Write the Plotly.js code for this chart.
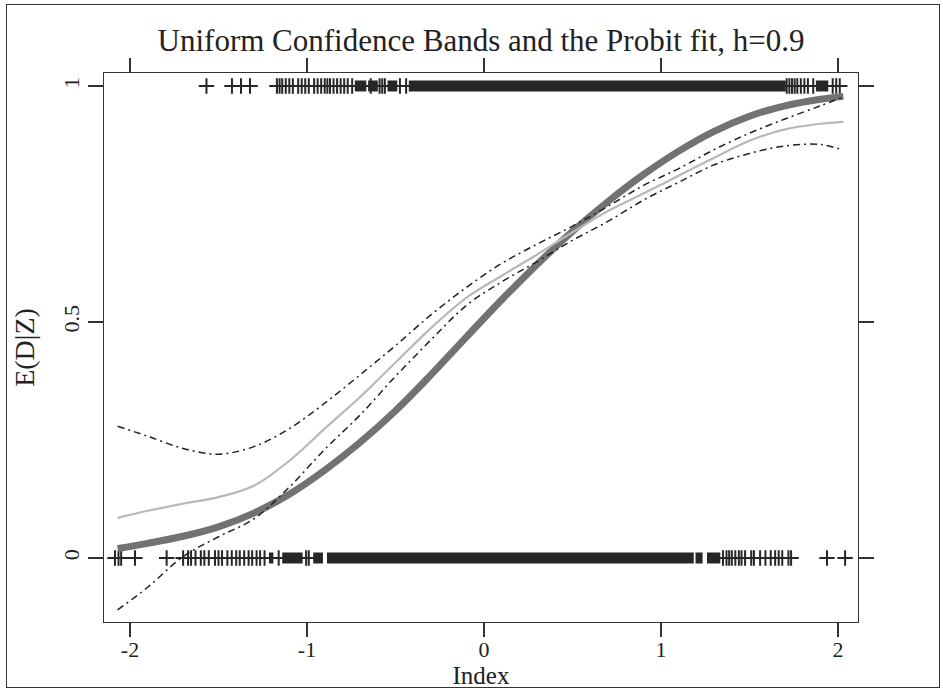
<!DOCTYPE html>
<html>
<head>
<meta charset="utf-8">
<script src="https://cdn.plot.ly/plotly-3.0.1.min.js"></script>
<style>
  html, body { margin: 0; padding: 0; background: #fff; }
  #wrap { position: relative; width: 943px; height: 690px; }
  #chart { width: 943px; height: 690px; }
  #frame { position: absolute; left: 6px; top: 4px; width: 932px; height: 682px;
           border: 1.5px solid #333; pointer-events: none; }
</style>
</head>
<body>
<div id="wrap">
  <div id="chart"></div>
  <div id="frame"></div>
</div>
<script>
// ---- data ----
const gridX = [-2.07, -1.9, -1.7, -1.5, -1.3, -1.1, -0.9, -0.7, -0.5, -0.3, -0.1,
               0.1, 0.3, 0.5, 0.7, 0.9, 1.1, 1.3, 1.5, 1.7, 1.9, 2.03];
const probitFit = [0.020, 0.031, 0.046, 0.066, 0.095, 0.135, 0.186, 0.245, 0.312, 0.388, 0.468,
                   0.547, 0.622, 0.692, 0.755, 0.812, 0.862, 0.904, 0.936, 0.958, 0.972, 0.978];
const kernelFit = [0.085, 0.100, 0.115, 0.129, 0.153, 0.206, 0.274, 0.341, 0.414, 0.487, 0.551,
                   0.598, 0.643, 0.690, 0.735, 0.772, 0.810, 0.848, 0.884, 0.908, 0.920, 0.924];
const upperBand = [0.279, 0.258, 0.232, 0.220, 0.236, 0.274, 0.328, 0.388, 0.450, 0.515, 0.573,
                   0.624, 0.665, 0.703, 0.745, 0.789, 0.825, 0.865, 0.900, 0.930, 0.958, 0.977];
const lowerBand = [-0.110, -0.062, 0.003, 0.045, 0.083, 0.150, 0.230, 0.303, 0.385, 0.462, 0.535,
                   0.585, 0.628, 0.673, 0.713, 0.758, 0.796, 0.833, 0.857, 0.873, 0.876, 0.864];

// observations with D=1 (top row) and D=0 (bottom row)
const topSparse = [-1.568, -1.424, -1.373, -1.322, -1.17, -1.155, -1.14, -1.12, -1.10, -1.08,
                   -1.05, -1.03, -1.01, -0.99, -0.96, -0.94, -0.92, -0.90, -0.885, -0.87, -0.85,
                   -0.83, -0.81, -0.79, -0.77, -0.745, -0.64, -0.59, -0.575, -0.56, -0.475, -0.44,
                   1.71, 1.725, 1.74, 1.755, 1.77, 1.79, 1.81, 1.83, 1.86, 1.97, 1.99, 2.01];
const topBlocks = [[-0.73, -0.665], [-0.655, -0.60], [-0.545, -0.49], [-0.425, 1.705], [1.875, 1.945]];
const bottomSparse = [-2.085, -2.065, -2.05, -1.972, -1.793, -1.70, -1.672, -1.655, -1.63, -1.60,
                      -1.58, -1.555, -1.52, -1.50, -1.48, -1.45, -1.425, -1.40, -1.38, -1.355, -1.33,
                      -1.31, -1.285, -1.265, -1.24, -1.16, -1.005, -0.99,
                      1.35, 1.37, 1.385, 1.40, 1.42, 1.44, 1.455, 1.475, 1.51, 1.525, 1.56, 1.59,
                      1.62, 1.645, 1.665, 1.685, 1.72, 1.735, 1.938, 2.04];
const bottomBlocks = [[-1.215, -1.19], [-1.14, -1.025], [-0.965, -0.91], [-0.887, 1.185],
                      [1.195, 1.235], [1.26, 1.335]];

const xTicks = [-2, -1, 0, 1, 2];
const xTickText = ['-2', '-1', '0', '1', '2'];
const yTicks = [0, 0.5, 1];
const yTickText = ['0', '0.5', '1'];

// ---- build traces ----
function blockTrace(blocks, level) {
  const x = [], y = [];
  blocks.forEach(b => { x.push(b[0], b[1], null); y.push(level, level, null); });
  return { x, y, mode: 'lines', line: { color: '#262626', width: 11 }, hoverinfo: 'skip' };
}
function plusTrace(xs, level) {
  return { x: xs, y: xs.map(() => level), mode: 'markers',
           marker: { symbol: 'cross-thin', size: 11, line: { width: 2, color: '#262626' }, color: '#262626' } };
}
const dashStyle = '7px,4px,2px,4px';
const traces = [
  blockTrace(topBlocks, 1), plusTrace(topSparse, 1),
  blockTrace(bottomBlocks, 0), plusTrace(bottomSparse, 0),
  { x: gridX, y: probitFit, mode: 'lines', line: { color: '#727272', width: 7, shape: 'spline' } },
  { x: gridX, y: kernelFit, mode: 'lines', line: { color: '#b8b8b8', width: 2.2, shape: 'spline' } },
  { x: gridX, y: upperBand, mode: 'lines', line: { color: '#222', width: 1.5, dash: dashStyle, shape: 'spline' } },
  { x: gridX, y: lowerBand, mode: 'lines', line: { color: '#222', width: 1.5, dash: dashStyle, shape: 'spline' } }
];

const serif = 'Liberation Serif, DejaVu Serif, serif';
const layout = {
  width: 943, height: 690,
  margin: { l: 104, r: 85, t: 73, b: 68 },
  paper_bgcolor: '#fff', plot_bgcolor: '#fff',
  showlegend: false,
  title: { text: 'Uniform Confidence Bands and the Probit fit, h=0.9',
           font: { family: serif, size: 31, color: '#222' },
           xref: 'paper', x: 0.5, xanchor: 'center', y: 0.942, yanchor: 'middle' },
  xaxis: {
    range: [-2.147, 2.113], tickvals: xTicks, ticktext: xTickText,
    ticks: 'outside', ticklen: 14, tickwidth: 1.2, tickcolor: '#333',
    showline: true, linecolor: '#333', linewidth: 1.3, mirror: 'ticks',
    showgrid: false, zeroline: false, ticklabelstandoff: -7,
    tickfont: { family: serif, size: 22, color: '#222' },
    title: { text: 'Index', font: { family: serif, size: 25, color: '#222' }, standoff: 0 }
  },
  yaxis: {
    range: [-0.1356, 1.0275], tickvals: yTicks, ticktext: yTickText, tickangle: -90,
    ticks: 'outside', ticklen: 15, tickwidth: 1.2, tickcolor: '#333',
    showline: true, linecolor: '#333', linewidth: 1.3, mirror: 'ticks',
    showgrid: false, zeroline: false,
    tickfont: { family: serif, size: 22, color: '#222' },
    title: { text: 'E(D|Z)', font: { family: serif, size: 28, color: '#222' }, standoff: 16 }
  }
};
Plotly.newPlot('chart', traces, layout, { displayModeBar: false, staticPlot: true });
</script>
</body>
</html>
